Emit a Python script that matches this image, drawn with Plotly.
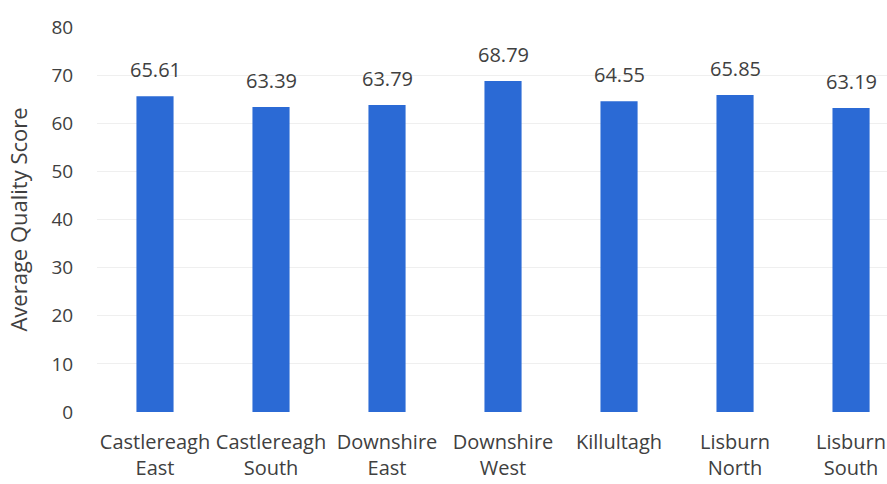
import plotly.graph_objects as go

categories = ["Castlereagh<br>East", "Castlereagh<br>South", "Downshire<br>East",
              "Downshire<br>West", "Killultagh", "Lisburn<br>North", "Lisburn<br>South"]
scores = [65.61, 63.39, 63.79, 68.79, 64.55, 65.85, 63.19]
label_texts = ["65.61", "63.39", "63.79", "68.79", "64.55", "65.85", "63.19"]
y_ticks = [0, 10, 20, 30, 40, 50, 60, 70, 80]

FONT = "Open Sans"
TXT = "#404040"

fig = go.Figure()
fig.add_trace(go.Bar(x=categories, y=scores, marker=dict(color="#2b6ad5", line=dict(width=0)),
                     width=0.32, hoverinfo="skip"))

for c, v, t in zip(categories, scores, label_texts):
    fig.add_annotation(x=c, y=v, text=t, showarrow=False, yanchor="bottom", yshift=11,
                       font=dict(family=FONT, size=20, color=TXT))

fig.update_layout(
    width=887, height=484,
    margin=dict(l=97, r=0, t=27, b=72),
    paper_bgcolor="white", plot_bgcolor="white",
    showlegend=False,
    font=dict(family=FONT, size=19, color=TXT),
    xaxis=dict(range=[-0.5, 6.31], showgrid=False, showline=False,
               ticks="outside", ticklen=12, tickcolor="rgba(0,0,0,0)",
               tickfont=dict(family=FONT, size=20, color=TXT)),
    yaxis=dict(range=[0, 80], tickvals=y_ticks, showgrid=True, gridcolor="#efefef",
               zeroline=False, showline=False,
               ticks="outside", ticklen=19, tickcolor="rgba(0,0,0,0)",
               title=dict(text="Average Quality Score", font=dict(family=FONT, size=22, color=TXT), standoff=17),
               tickfont=dict(family=FONT, size=19, color=TXT)),
)

fig.write_html("out.html")
